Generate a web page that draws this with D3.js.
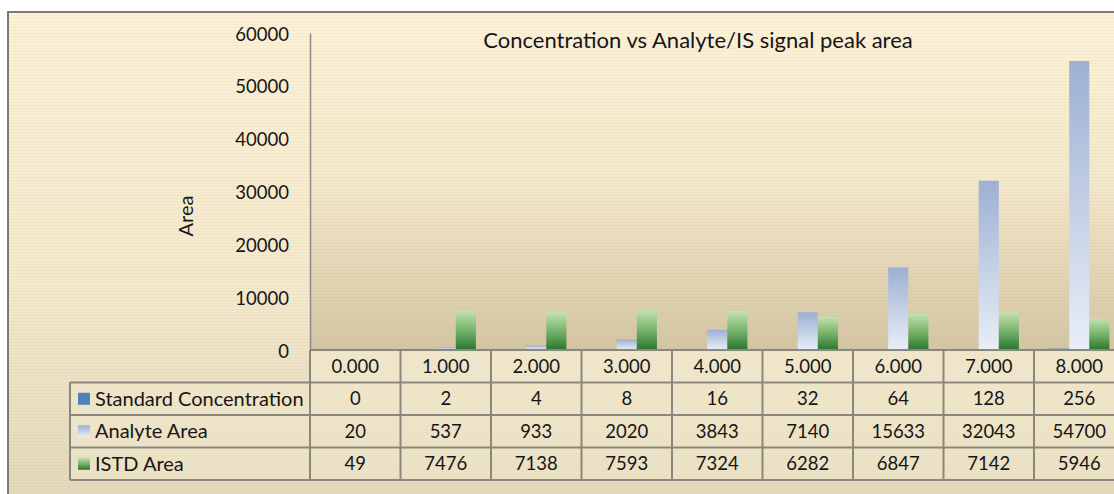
<!DOCTYPE html>
<html>
<head>
<meta charset="utf-8">
<script src="https://cdn.jsdelivr.net/npm/d3@7"></script>
<style>
  body { margin: 0; background: #fff; }
  svg { display: block; font-family: Lato, "Noto Sans", sans-serif; }
</style>
</head>
<body>
<div id="chart"></div>
<script>
/* Concentration vs Analyte/IS signal peak area */

// data
var categories = ["0.000", "1.000", "2.000", "3.000", "4.000", "5.000", "6.000", "7.000", "8.000"];
var seriesNames = ["Standard Concentration", "Analyte Area", "ISTD Area"];
var standardConc = [0, 2, 4, 8, 16, 32, 64, 128, 256];
var analyteArea = [20, 537, 933, 2020, 3843, 7140, 15633, 32043, 54700];
var istdArea = [49, 7476, 7138, 7593, 7324, 6282, 6847, 7142, 5946];
var yTicks = [0, 10000, 20000, 30000, 40000, 50000, 60000];

var seriesValues = [standardConc, analyteArea, istdArea];

// set the dimensions of the page and plot
var W = 1114, H = 494;
var plot = {left: 310, top: 33, bottom: 350, colW: 90.5};
var rowH = 32.5;
var numSize = 18.5, labelSize = 20;

var svg = d3.select("#chart").append("svg")
    .attr("width", W)
    .attr("height", H);

var defs = svg.append("defs");

// background gradients
var bg = defs.append("linearGradient").attr("id", "bgGrad")
    .attr("x1", 0).attr("y1", 0).attr("x2", 0).attr("y2", 1);
bg.append("stop").attr("offset", "0%").attr("stop-color", "#fcf0d6");
bg.append("stop").attr("offset", "45%").attr("stop-color", "#f4e9cc");
bg.append("stop").attr("offset", "75%").attr("stop-color", "#e6dbbe");
bg.append("stop").attr("offset", "100%").attr("stop-color", "#d6cbae");

var pg = defs.append("linearGradient").attr("id", "plotGrad")
    .attr("x1", 0).attr("y1", 0).attr("x2", 0).attr("y2", 1);
pg.append("stop").attr("offset", "0%").attr("stop-color", "#fcf0d6");
pg.append("stop").attr("offset", "45%").attr("stop-color", "#f5e9cc");
pg.append("stop").attr("offset", "70%").attr("stop-color", "#e6d9b9");
pg.append("stop").attr("offset", "100%").attr("stop-color", "#d4c6a3");

// bar gradients
var ga = defs.append("linearGradient").attr("id", "analyteGrad")
    .attr("x1", 0).attr("y1", 0).attr("x2", 0).attr("y2", 1);
ga.append("stop").attr("offset", "0%").attr("stop-color", "#9cb0d3");
ga.append("stop").attr("offset", "100%").attr("stop-color", "#e9eef7");

var gi = defs.append("linearGradient").attr("id", "istdGrad")
    .attr("x1", 0).attr("y1", 0).attr("x2", 0).attr("y2", 1);
gi.append("stop").attr("offset", "0%").attr("stop-color", "#c4e2b1");
gi.append("stop").attr("offset", "55%").attr("stop-color", "#6fae64");
gi.append("stop").attr("offset", "100%").attr("stop-color", "#2a752f");

// faint horizontal stripes
var stripes = defs.append("pattern").attr("id", "stripes")
    .attr("patternUnits", "userSpaceOnUse")
    .attr("width", 8).attr("height", 3);
stripes.append("rect").attr("width", 8).attr("height", 1)
    .attr("fill", "#8a7a50").attr("opacity", 0.05);

var fills = ["#4f81bd", "url(#analyteGrad)", "url(#istdGrad)"];

// chart area
svg.append("rect")
    .attr("x", 8).attr("y", 12)
    .attr("width", 1200).attr("height", 600)
    .attr("fill", "url(#bgGrad)");
svg.append("rect")
    .attr("x", 8).attr("y", 12)
    .attr("width", 1200).attr("height", 600)
    .attr("fill", "url(#stripes)");
svg.append("path")
    .attr("d", "M8,600V12H1114")
    .attr("fill", "none")
    .attr("stroke", "#7d7a73")
    .attr("stroke-width", 2);

// set the ranges
var x = d3.scaleBand()
    .domain(categories)
    .range([plot.left, plot.left + plot.colW * categories.length]);

var xs = d3.scaleBand()
    .domain(seriesNames)
    .range([0, x.bandwidth()])
    .paddingInner(0)
    .paddingOuter(0.75);

var y = d3.scaleLinear()
    .domain([0, 60000])
    .range([plot.bottom, plot.top]);

// plot area
svg.append("rect")
    .attr("x", plot.left).attr("y", plot.top)
    .attr("width", x.range()[1] - plot.left)
    .attr("height", plot.bottom - plot.top)
    .attr("fill", "url(#plotGrad)");
svg.append("rect")
    .attr("x", plot.left).attr("y", plot.top)
    .attr("width", x.range()[1] - plot.left)
    .attr("height", plot.bottom - plot.top)
    .attr("fill", "url(#stripes)");

// bars
seriesNames.forEach(function(name, si) {
  svg.append("g")
    .selectAll("rect")
    .data(seriesValues[si])
    .enter().append("rect")
      .attr("x", function(d, i) { return x(categories[i]) + xs(name); })
      .attr("y", function(d) { return y(d); })
      .attr("width", xs.bandwidth())
      .attr("height", function(d) { return plot.bottom - y(d); })
      .attr("fill", fills[si]);
});

// Add the Y Axis
var yAxis = svg.append("g")
    .attr("transform", "translate(" + plot.left + ",0)")
    .call(d3.axisLeft(y).tickValues(yTicks).tickSize(0).tickPadding(21).tickFormat(d3.format("d")));
yAxis.select(".domain").attr("stroke", "#8c8a84").attr("stroke-width", 1.5);
yAxis.selectAll("text")
    .attr("font-size", numSize)
    .attr("font-family", "Lato, sans-serif")
    .attr("dy", "0.38em")
    .attr("fill", "#161616");

// axis title
svg.append("text")
    .attr("transform", "translate(193,216) rotate(-90)")
    .attr("text-anchor", "middle")
    .attr("font-size", labelSize)
    .attr("fill", "#161616")
    .text("Area");

// chart title
svg.append("text")
    .attr("x", 698).attr("y", 48)
    .attr("text-anchor", "middle")
    .attr("font-size", 22)
    .attr("fill", "#161616")
    .text("Concentration vs Analyte/IS signal peak area");

// data table
var table = svg.append("g");
var tableTop = plot.bottom;
var labelLeft = 70;
var tableRight = x.range()[1];
var lineColor = "#8a877d";

// cell backgrounds
table.append("rect")
    .attr("x", plot.left).attr("y", tableTop)
    .attr("width", tableRight - plot.left).attr("height", rowH)
    .attr("fill", "#f3ead0").attr("opacity", 0.55);
table.append("rect")
    .attr("x", labelLeft).attr("y", tableTop + rowH)
    .attr("width", tableRight - labelLeft).attr("height", rowH * 3)
    .attr("fill", "#f3ead0").attr("opacity", 0.45);

// horizontal lines
[0, 1, 2, 3, 4].forEach(function(r) {
  table.append("line")
    .attr("x1", r === 0 ? plot.left : labelLeft)
    .attr("x2", tableRight)
    .attr("y1", tableTop + r * rowH).attr("y2", tableTop + r * rowH)
    .attr("stroke", lineColor).attr("stroke-width", 2);
});
// vertical lines
table.append("line")
  .attr("x1", labelLeft).attr("x2", labelLeft)
  .attr("y1", tableTop + rowH).attr("y2", tableTop + 4 * rowH)
  .attr("stroke", lineColor).attr("stroke-width", 2);
categories.forEach(function(c) {
  table.append("line")
    .attr("x1", x(c)).attr("x2", x(c))
    .attr("y1", tableTop).attr("y2", tableTop + 4 * rowH)
    .attr("stroke", lineColor).attr("stroke-width", 2);
});

// header row (category labels)
table.selectAll(".cat")
  .data(categories)
  .enter().append("text")
    .attr("class", "cat")
    .attr("x", function(d) { return x(d) + x.bandwidth() / 2; })
    .attr("y", tableTop + rowH / 2)
    .attr("dy", "0.36em")
    .attr("text-anchor", "middle")
    .attr("font-size", numSize)
    .attr("fill", "#161616")
    .text(function(d) { return d; });

// series rows
seriesNames.forEach(function(name, si) {
  var cy = tableTop + (si + 1) * rowH + rowH / 2;
  table.append("rect")
    .attr("x", 78).attr("y", cy - 6)
    .attr("width", 12).attr("height", 12)
    .attr("fill", fills[si]);
  table.append("text")
    .attr("x", 95).attr("y", cy)
    .attr("dy", "0.36em")
    .attr("font-size", labelSize)
    .attr("fill", "#161616")
    .text(name);
  table.selectAll(".v" + si)
    .data(seriesValues[si])
    .enter().append("text")
      .attr("x", function(d, i) { return x(categories[i]) + x.bandwidth() / 2; })
      .attr("y", cy)
      .attr("dy", "0.36em")
      .attr("text-anchor", "middle")
      .attr("font-size", numSize)
      .attr("fill", "#161616")
      .text(function(d) { return d; });
});
</script>
</body>
</html>
